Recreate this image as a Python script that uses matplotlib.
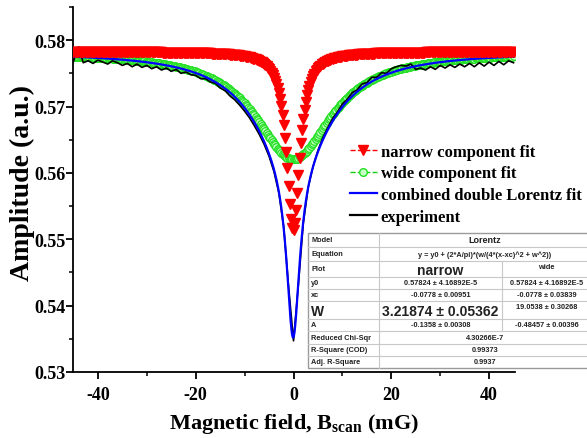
import numpy as np
import matplotlib
matplotlib.use("Agg")
import matplotlib.pyplot as plt
from matplotlib.lines import Line2D
from matplotlib.patches import Rectangle

plt.rcParams['axes.unicode_minus'] = False
plt.rcParams['mathtext.fontset'] = 'custom'
plt.rcParams['mathtext.rm'] = 'Liberation Serif:bold'
plt.rcParams['mathtext.bf'] = 'Liberation Serif:bold'
plt.rcParams['mathtext.it'] = 'Liberation Serif:bold'

# ---- Fit parameters (from the table in the chart) ----
y0 = 0.57824
xc = -0.0778
w_narrow = 3.21874
A_narrow = -0.1358
w_wide = 19.0538
A_wide = -0.48457

# ---- Experiment ----
field_exp = list(range(-45, 46))
amp_exp = [
    0.5768, 0.5790, 0.5766, 0.5769, 0.5765, 0.5770, 0.5767, 0.5764, 0.5769, 0.5766,
    0.5762, 0.5765, 0.5760, 0.5764, 0.5759, 0.5762, 0.5757, 0.5760, 0.5755, 0.5758,
    0.5753, 0.5756, 0.5750, 0.5752, 0.5748, 0.5747, 0.5742, 0.5742, 0.5737, 0.5735,
    0.5728, 0.5724, 0.5716, 0.5710, 0.5702, 0.5693, 0.5683, 0.5671, 0.5658, 0.5643,
    0.5625, 0.5602, 0.5570, 0.5518, 0.5428, 0.5347, 0.5432, 0.5524, 0.5578, 0.5610,
    0.5634, 0.5653, 0.5668, 0.5682, 0.5692, 0.5704, 0.5711, 0.5721, 0.5725, 0.5734,
    0.5736, 0.5744, 0.5744, 0.5751, 0.5750, 0.5757, 0.5760, 0.5762, 0.5761, 0.5764,
    0.5756, 0.5758, 0.5755, 0.5760, 0.5756, 0.5762, 0.5758, 0.5763, 0.5759, 0.5764,
    0.5760, 0.5765, 0.5760, 0.5766, 0.5761, 0.5767, 0.5762, 0.5768, 0.5763, 0.5769,
    0.5766,
]

x_fit = np.linspace(-45, 45, 361)
x_line = np.linspace(-45, 45, 1801)


def lorentz(x, A, w):
    return (2 * A / np.pi) * (w / (4 * (x - xc) ** 2 + w ** 2))


narrow = y0 + lorentz(x_fit, A_narrow, w_narrow)
wide = y0 + lorentz(x_fit, A_wide, w_wide)
combined = y0 + lorentz(x_line, A_narrow, w_narrow) + lorentz(x_line, A_wide, w_wide)

# ---- Table content ----
row_labels = ["Model", "Equation", "Plot", "y0", "xc", "W", "A",
              "Reduced Chi-Sqr", "R-Square (COD)", "Adj. R-Square"]
narrow_cells = ["0.57824 ± 4.16892E-5", "-0.0778 ± 0.00951",
                "3.21874 ± 0.05362", "-0.1358 ± 0.00308"]
wide_cells = ["0.57824 ± 4.16892E-5", "-0.0778 ± 0.03839",
              "19.0538 ± 0.30268", "-0.48457 ± 0.00396"]
stat_cells = ["4.30266E-7", "0.99373", "0.9937"]
model_name = "Lorentz"
equation = "y = y0 + (2*A/pi)*(w/(4*(x-xc)^2 + w^2))"

W, H = 587, 439
fig = plt.figure(figsize=(W / 100, H / 100), dpi=100)
L, R, T, B = 73, 515, 8, 373
ax = fig.add_axes([L / W, 1 - B / H, (R - L) / W, (B - T) / H])

serif = ['Liberation Serif', 'DejaVu Serif']

ax.plot(x_fit, wide, color='#30e030', lw=0.8, marker='o', ms=5.5,
        mfc='#c8ffc8', mec='#22e022', mew=0.9, zorder=1)
ax.plot(field_exp, amp_exp, color='black', lw=1.2, zorder=2)
ax.plot(x_line, combined, color='#0000ff', lw=1.6, zorder=3)
ax.plot(x_fit, narrow, color='red', ls='none', marker='v', ms=7.5,
        mfc='red', mec='red', zorder=4)

ax.set_xlim(-45.1, 45.3)
ax.set_ylim(0.53, 0.585)
ax.set_xticks([-40, -20, 0, 20, 40])
ax.set_xticks([-30, -10, 10, 30], minor=True)
ax.set_yticks([0.53, 0.54, 0.55, 0.56, 0.57, 0.58])
ax.set_yticklabels(["0.53", "0.54", "0.55", "0.56", "0.57", "0.58"])
ax.set_yticks([0.535, 0.545, 0.555, 0.565, 0.575, 0.585], minor=True)
for s in ['top', 'right']:
    ax.spines[s].set_visible(False)
for s in ['left', 'bottom']:
    ax.spines[s].set_linewidth(1.3)
ax.tick_params(which='major', direction='out', length=5, width=1.3, pad=0.5)
ax.tick_params(which='minor', direction='out', length=3, width=1.1)
ax.tick_params(axis='x', which='major', pad=5)
for lab in ax.get_xticklabels() + ax.get_yticklabels():
    lab.set_fontfamily(serif)
    lab.set_fontweight('bold')
    lab.set_fontsize(13)

fig.text(22 / W, 1 - 183 / H, "Amplitude (a.u.)", rotation=90, ha='center',
         va='center', fontsize=20, fontweight='bold', family=serif)
fig.text(294 / W, 1 - 424 / H, r"Magnetic field, B$_{\mathbf{scan}}$ (mG)",
         ha='center', va='center', fontsize=16, fontweight='bold', family=serif)

handles = [
    Line2D([], [], color='red', lw=1.0, ls='--', marker='v', ms=7, mfc='red', mec='red'),
    Line2D([], [], color='#10d010', lw=1.0, ls='--', marker='o', ms=5.5, mfc='#c8ffc8', mec='#22e022'),
    Line2D([], [], color='#0000ff', lw=1.6),
    Line2D([], [], color='black', lw=1.6),
]
labels = ["narrow component fit", "wide component fit",
          "combined double Lorentz fit", "experiment"]
fig.legend(handles, labels, loc='upper left', bbox_to_anchor=(350 / W, 1 - 145 / H),
           frameon=False, borderpad=0, borderaxespad=0, handlelength=1.6,
           handletextpad=0.25, labelspacing=0.33,
           prop={'family': serif, 'weight': 'bold', 'size': 12})

# ---- Table drawn in pixel coordinates ----
tax = fig.add_axes([0, 0, 1, 1], zorder=10)
tax.set_xlim(0, W)
tax.set_ylim(H, 0)
tax.axis('off')
tx0, tx1, tx2, tx3 = 308, 379, 502, 591
rows = [234, 248, 262, 278, 290, 302, 320, 332, 345, 357, 369]
tax.add_patch(Rectangle((tx0, rows[0]), tx3 - tx0, rows[-1] - rows[0],
                        facecolor='white', edgecolor='#9a9a9a', lw=1.0))
grid_c = '#c8c8c8'
for yy in rows[1:-1]:
    tax.plot([tx0, tx3], [yy, yy], color=grid_c, lw=0.8)
tax.plot([tx1, tx1], [rows[0], rows[-1]], color=grid_c, lw=0.8)
tax.plot([tx2, tx2], [rows[2], rows[7]], color=grid_c, lw=0.8)

sans = ['Liberation Sans', 'DejaVu Sans']
small = 5.3


def cell(x, y, s, size=small, ha='center', va='center', weight='bold'):
    tax.text(x, y, s, fontsize=size, ha=ha, va=va, fontweight=weight,
             family=sans, color='#222222')


for i, lab in enumerate(row_labels):
    yc = (rows[i] + rows[i + 1]) / 2
    if lab == "W":
        cell(tx0 + 3, yc + 1, lab, size=10, ha='left')
    else:
        cell(tx0 + 3, yc, lab, ha='left')

mid23 = (tx1 + tx3) / 2
mid2 = (tx1 + tx2) / 2
mid3 = (tx2 + tx3) / 2
cell(mid23, (rows[0] + rows[1]) / 2, model_name, size=6.5)
cell(mid23, (rows[1] + rows[2]) / 2, equation)
cell(mid2, (rows[2] + rows[3]) / 2 + 1, "narrow", size=10)
cell(mid3, rows[2] + 2, "wide", va='top')
for k in range(4):
    r = 3 + k
    yc = (rows[r] + rows[r + 1]) / 2
    if k == 2:
        cell(mid2, yc + 1, narrow_cells[k], size=10)
        cell(mid3, rows[r] + 2, wide_cells[k], va='top')
    else:
        cell(mid2, yc, narrow_cells[k])
        cell(mid3, yc, wide_cells[k])
for k in range(3):
    r = 7 + k
    cell(mid23, (rows[r] + rows[r + 1]) / 2, stat_cells[k])

fig.savefig("out.png", dpi=100)
